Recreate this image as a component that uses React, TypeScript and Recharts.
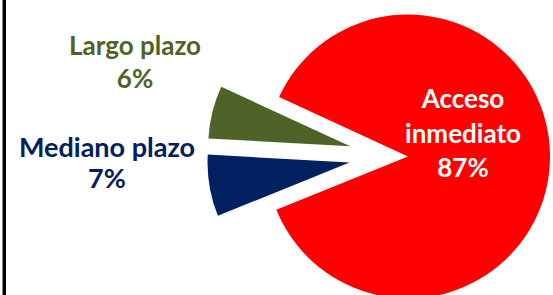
import React from 'react';
import { PieChart, Pie, Cell, Sector } from 'recharts';

const categories = ['Acceso inmediato', 'Largo plazo', 'Mediano plazo'];
const shares = [87, 6, 7];

const SLICE_COLORS = ['#FF0000', '#4F6228', '#002060'];
const LABEL_COLORS = ['#FFFFFF', '#4F6228', '#002060'];
// how far each slice is pulled out of the pie, px
const EXPLODE = [19, 40, 40];
// label anchor relative to the pie centre, first baseline + line gap
const LABEL_POS = [
  { dx: 74, dy: -48, gap: 34.5, wrap: true, size: 26 },
  { dx: -254, dy: -101, gap: 33, wrap: false, size: 26 },
  { dx: -282, dy: 1, gap: 31, wrap: false, size: 27 }
];

const RADIAN = Math.PI / 180;

const data = categories.map((name, i) => ({ name, value: shares[i] }));

const ExplodedSector = (props: any) => {
  const { cx, cy, midAngle, index } = props;
  const off = EXPLODE[index] ?? 0;
  return (
    <Sector
      {...props}
      cx={cx + off * Math.cos(-midAngle * RADIAN)}
      cy={cy + off * Math.sin(-midAngle * RADIAN)}
      stroke="none"
    />
  );
};

const renderLabel = (props: any) => {
  const { cx, cy, index, name, percent } = props;
  const pos = LABEL_POS[index];
  const lines = pos.wrap ? name.split(' ') : [name];
  lines.push(`${Math.round(percent * 100)}%`);
  return (
    <text
      x={cx + pos.dx}
      y={cy + pos.dy}
      textAnchor="middle"
      fill={LABEL_COLORS[index]}
      style={{ fontFamily: 'Lato, "Open Sans", sans-serif', fontSize: pos.size, fontWeight: 700 }}
    >
      {lines.map((l: string, i: number) => (
        <tspan key={i} x={cx + pos.dx} y={cy + pos.dy + i * pos.gap}>{l}</tspan>
      ))}
    </text>
  );
};

export default function App() {
  return (
    <div style={{ position: 'fixed', left: 0, top: 0, width: 553, height: 295, background: '#fff', overflow: 'hidden' }}>
      <PieChart width={553} height={295}>
        <Pie
          data={data}
          dataKey="value"
          nameKey="name"
          cx={384}
          cy={151}
          outerRadius={142}
          startAngle={202}
          endAngle={562}
          stroke="none"
          shape={ExplodedSector}
          label={renderLabel}
          labelLine={false}
          isAnimationActive={false}
        >
          {data.map((d, i) => (
            <Cell key={d.name} fill={SLICE_COLORS[i]} />
          ))}
        </Pie>
      </PieChart>
      <div style={{ position: 'absolute', zIndex: 2, left: 2, top: 0, width: 1, height: 295, background: '#888' }} />
      <div style={{ position: 'absolute', zIndex: 2, left: 3, top: 0, width: 3, height: 295, background: '#000' }} />
    </div>
  );
}
